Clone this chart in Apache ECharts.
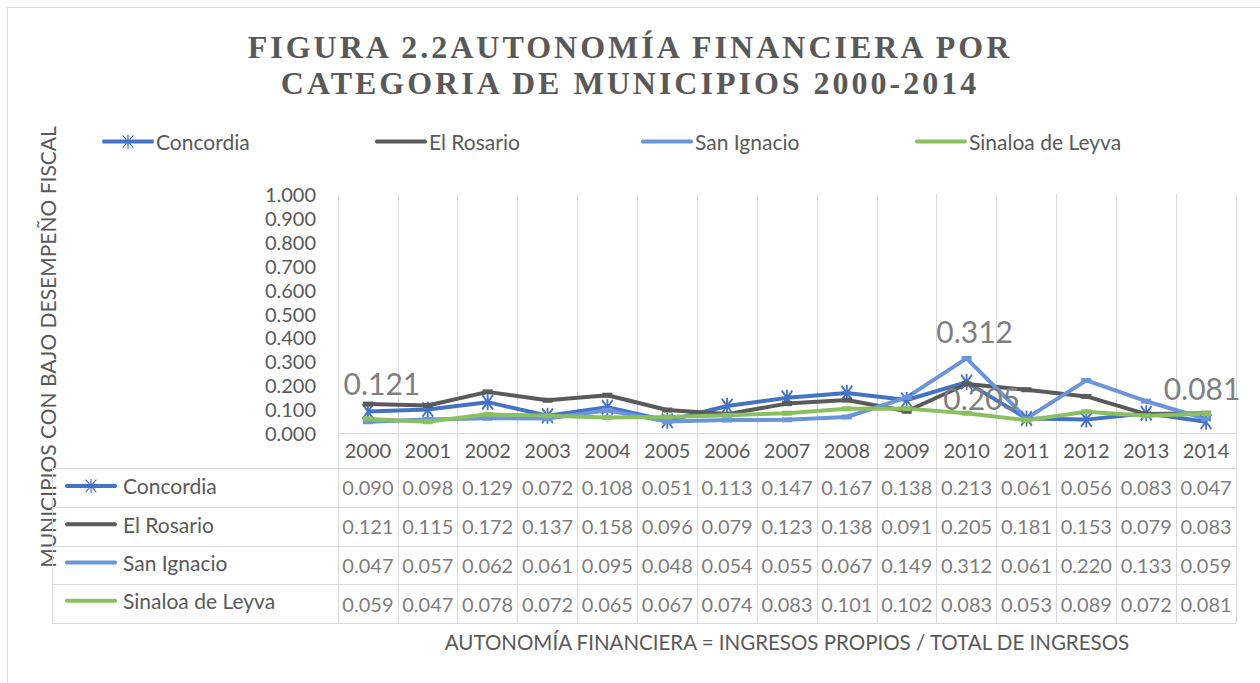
<!DOCTYPE html>
<html>
<head>
<meta charset="utf-8">
<script src="https://cdn.jsdelivr.net/npm/echarts@6/dist/echarts.min.js"></script>
<style>
    html, body { margin: 0; padding: 0; background: #fff; }
    #chart { width: 1260px; height: 683px; }
    /* Excel title is letter-spaced */
    #chart text[style*="Serif"], #chart text[font-family*="Serif"] { letter-spacing: 3px; }
</style>
</head>
<body>
<div id="chart"></div>
<script>
var years = ['2000', '2001', '2002', '2003', '2004', '2005', '2006', '2007', '2008', '2009', '2010', '2011', '2012', '2013', '2014'];
var seriesNames = ['Concordia', 'El Rosario', 'San Ignacio', 'Sinaloa de Leyva'];
var concordia = [0.090, 0.098, 0.129, 0.072, 0.108, 0.051, 0.113, 0.147, 0.167, 0.138, 0.213, 0.061, 0.056, 0.083, 0.047];
var elRosario = [0.121, 0.115, 0.172, 0.137, 0.158, 0.096, 0.079, 0.123, 0.138, 0.091, 0.205, 0.181, 0.153, 0.079, 0.083];
var sanIgnacio = [0.047, 0.057, 0.062, 0.061, 0.095, 0.048, 0.054, 0.055, 0.067, 0.149, 0.312, 0.061, 0.220, 0.133, 0.059];
var sinaloa = [0.059, 0.047, 0.078, 0.072, 0.065, 0.067, 0.074, 0.083, 0.101, 0.102, 0.083, 0.053, 0.089, 0.072, 0.081];

var font = 'Lato';
var textColor = '#595959';
var lineColor = '#d9d9d9';

// layout of plot + data table
var plotLeft = 338, plotRight = 1236, plotTop = 194, axisY = 433;
var tableLeft = 52, tableTop = 468, rowH = 38.75;
var tableBottom = tableTop + rowH * 4;

var asterisk = 'path://M8.5,0 L11.5,0 L11.5,20 L8.5,20 Z M0,2 L2,0 L20,18 L18,20 Z M18,0 L20,2 L2,20 L0,18 Z';
// legend keys drawn in a 52x14 box (the two lone moveTo keep the box size)
var keyAsterisk = 'path://M0,0 M52,14 M1,5 L51,5 Q53,7 51,9 L1,9 Q-1,7 1,5 Z M25.4,0 L26.6,0 L26.6,14 L25.4,14 Z ' +
    'M20.3,1.2 L21.1,0.4 L31.7,12.8 L30.9,13.6 Z M30.9,0.4 L31.7,1.2 L21.1,13.6 L20.3,12.8 Z';
var keyLine = 'path://M0,0 M52,14 M1,5 L51,5 Q53,7 51,9 L1,9 Q-1,7 1,5 Z';

function withLabels(values, labels) {
    return values.map(function (v, i) {
        if (labels[i]) {
            return {value: v, label: Object.assign({show: true}, labels[i])};
        }
        return v;
    });
}

var bigLabel = {fontSize: 30, color: '#7f7f7f', fontFamily: font};

var lineSeries = [
    {name: 'Concordia', data: concordia, color: '#4472c4', symbol: asterisk, symbolSize: [12, 16], key: keyAsterisk, labels: {}},
    {name: 'El Rosario', data: elRosario, color: '#5a5a5a', symbol: 'rect', symbolSize: [10, 5], key: keyLine,
        labels: {0: Object.assign({position: 'top', distance: 4, offset: [14, 0]}, bigLabel),
                 10: Object.assign({position: 'bottom', distance: -4, offset: [15, 0]}, bigLabel)}},
    {name: 'San Ignacio', data: sanIgnacio, color: '#6a95d8', symbol: 'rect', symbolSize: [10, 5], key: keyLine,
        labels: {10: Object.assign({position: 'top', distance: 10, offset: [8, 0]}, bigLabel)}},
    {name: 'Sinaloa de Leyva', data: sinaloa, color: '#8bc060', symbol: 'rect', symbolSize: [10, 5], key: keyLine,
        labels: {14: Object.assign({position: 'top', distance: 8, offset: [-4, 0]}, bigLabel)}}
];

var allValues = [concordia, elRosario, sanIgnacio, sinaloa];
var tableCells = [];
allValues.forEach(function (arr, r) {
    arr.forEach(function (v, c) {
        tableCells.push([c, r, v]);
    });
});

var series = lineSeries.map(function (s) {
    return {
        name: s.name,
        type: 'line',
        xAxisIndex: 0,
        yAxisIndex: 0,
        data: withLabels(s.data, s.labels),
        symbol: s.symbol,
        symbolSize: s.symbolSize,
        showAllSymbol: true,
        lineStyle: {color: s.color, width: 4},
        itemStyle: {color: s.color},
        label: {show: false},
        emphasis: {disabled: true},
        z: 3
    };
});

series.push({
    type: 'scatter',
    xAxisIndex: 1,
    yAxisIndex: 1,
    data: tableCells,
    symbolSize: 1,
    itemStyle: {color: 'transparent'},
    label: {
        show: true,
        position: 'inside',
        fontFamily: font,
        fontSize: 20,
        color: textColor,
        formatter: function (p) {
            return p.value[2].toFixed(3);
        }
    },
    silent: true
});

var graphics = [
    {type: 'rect', shape: {x: 7.5, y: 7.5, width: 1400, height: 800}, style: {fill: 'none', stroke: lineColor, lineWidth: 1}, silent: true},
    {type: 'text', x: 47, y: 347, rotation: Math.PI / 2,
        style: {text: 'MUNICIPIOS CON BAJO DESEMPEÑO FISCAL', fontFamily: font, fontSize: 21, fill: textColor, align: 'center', verticalAlign: 'middle'}},
    {type: 'line', shape: {x1: tableLeft + 0.5, y1: tableTop, x2: tableLeft + 0.5, y2: tableBottom}, style: {stroke: lineColor, lineWidth: 1}, silent: true}
];
for (var i = 0; i <= 4; i++) {
    var y = Math.round(tableTop + i * rowH) + 0.5;
    graphics.push({type: 'line', shape: {x1: tableLeft, y1: y, x2: plotRight, y2: y}, style: {stroke: lineColor, lineWidth: 1}, silent: true});
}

var legendData = lineSeries.map(function (s) {
    return {name: s.name, icon: s.key};
});

var topLegendLeft = [97, 370, 636, 910];
var legends = legendData.map(function (d, i) {
    return {
        data: [d],
        left: topLegendLeft[i],
        top: 126,
        itemWidth: 52,
        itemHeight: 14,
        itemGap: 0,
        textStyle: {fontFamily: font, fontSize: 21, color: textColor, lineHeight: 20, padding: [0, 0, 0, -3]},
        selectedMode: false
    };
});
legends.push({
    data: legendData,
    orient: 'vertical',
    left: 60,
    top: tableTop + (rowH - 20) / 2 - 7,
    itemGap: rowH - 21.5,
    itemWidth: 52,
    itemHeight: 14,
    textStyle: {fontFamily: font, fontSize: 21, color: textColor, lineHeight: 20, padding: [0, 0, 0, 1]},
    selectedMode: false
});

var chart = echarts.init(document.getElementById('chart'), null, {renderer: 'svg'});
chart.setOption({
    animation: false,
    backgroundColor: '#fff',
    title: {
        text: 'FIGURA 2.2AUTONOMÍA FINANCIERA POR\nCATEGORIA DE MUNICIPIOS 2000-2014',
        left: 'center',
        top: 24,
        textStyle: {fontFamily: 'Liberation Serif', fontWeight: 'bold', fontSize: 32, color: textColor, lineHeight: 36}
    },
    legend: legends,
    grid: [
        {left: plotLeft, right: 1260 - plotRight, top: plotTop, height: axisY - plotTop},
        {left: plotLeft, right: 1260 - plotRight, top: tableTop, height: tableBottom - tableTop}
    ],
    xAxis: [
        {
            type: 'category',
            gridIndex: 0,
            data: years,
            boundaryGap: true,
            axisLine: {lineStyle: {color: lineColor, width: 1}},
            axisTick: {show: true, interval: 0, length: 35, lineStyle: {color: lineColor}},
            axisLabel: {interval: 0, fontFamily: font, fontSize: 20, color: textColor, margin: 7},
            splitLine: {show: true, interval: 0, lineStyle: {color: lineColor, width: 1}}
        },
        {
            type: 'category',
            gridIndex: 1,
            data: years,
            boundaryGap: true,
            axisLine: {show: false},
            axisTick: {show: false},
            axisLabel: {show: false},
            splitLine: {show: true, interval: 0, lineStyle: {color: lineColor, width: 1}},
            name: 'AUTONOMÍA FINANCIERA = INGRESOS PROPIOS / TOTAL DE INGRESOS',
            nameLocation: 'middle',
            nameGap: 8,
            nameTextStyle: {fontFamily: font, fontSize: 20.5, color: textColor}
        }
    ],
    yAxis: [
        {
            type: 'value',
            gridIndex: 0,
            min: 0,
            max: 1,
            interval: 0.1,
            axisLine: {show: false},
            axisTick: {show: false},
            splitLine: {show: false},
            axisLabel: {
                fontFamily: font, fontSize: 20, color: textColor, margin: 22,
                formatter: function (v) { return v.toFixed(3); }
            }
        },
        {
            type: 'category',
            gridIndex: 1,
            data: seriesNames,
            inverse: true,
            axisLine: {show: false},
            axisTick: {show: false},
            axisLabel: {show: false},
            splitLine: {show: false}
        }
    ],
    graphic: graphics,
    series: series
});
</script>
</body>
</html>
